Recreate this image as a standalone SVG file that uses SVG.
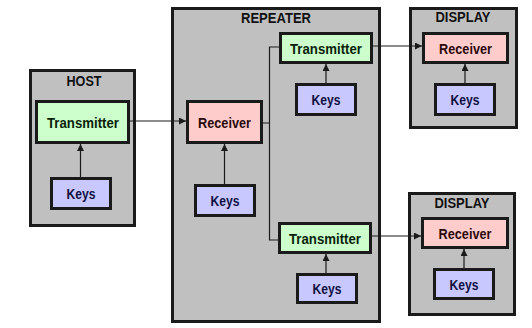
<svg xmlns="http://www.w3.org/2000/svg" width="532" height="328" viewBox="0 0 532 328">
<defs>
<marker id="ah" markerWidth="8" markerHeight="8" refX="7" refY="3.5" orient="auto" markerUnits="userSpaceOnUse">
<path d="M0,0 L7,3.5 L0,7 Z" fill="#1a1a1a"/>
</marker>
<style>
.cont{fill:#c0c0c0;stroke:#1a1a1a;stroke-width:3}
.tx{fill:#ccffcc;stroke:#1a1a1a;stroke-width:3}
.rx{fill:#ffcccc;stroke:#1a1a1a;stroke-width:3}
.keys{fill:#c8c8ff;stroke:#1a1a1a;stroke-width:3}
text{font-family:"Liberation Sans",Arial,sans-serif;font-weight:bold;text-anchor:middle;dominant-baseline:central}
.title{font-size:14px;fill:#111}
.lbl{font-size:15px}
.ttx{fill:#0a1f0a}
.trx{fill:#2a0a0a}
.tk{fill:#101040}
.conn line,.conn path{stroke:#1a1a1a;stroke-width:1.2;fill:none}
</style>
</defs>
<rect width="532" height="328" fill="#ffffff"/>
<g id="host">
<rect class="cont" x="30.5" y="70.5" width="104" height="155"/>
<text class="title" x="84" y="81" textLength="35" lengthAdjust="spacingAndGlyphs">HOST</text>
</g>
<g id="host-transmitter">
<rect class="tx" x="36.5" y="101.5" width="92" height="41"/>
<text class="lbl ttx" x="83" y="122" textLength="72" lengthAdjust="spacingAndGlyphs">Transmitter</text>
</g>
<g id="host-keys">
<rect class="keys" x="51.5" y="178.5" width="59" height="30"/>
<text class="lbl tk" x="81" y="193.5" textLength="29" lengthAdjust="spacingAndGlyphs">Keys</text>
</g>
<g id="repeater">
<rect class="cont" x="172.5" y="8.5" width="207" height="313"/>
<text class="title" x="276" y="18" textLength="70" lengthAdjust="spacingAndGlyphs">REPEATER</text>
</g>
<g id="repeater-receiver">
<rect class="rx" x="187.5" y="101.5" width="74" height="41"/>
<text class="lbl trx" x="224.5" y="122" textLength="53" lengthAdjust="spacingAndGlyphs">Receiver</text>
</g>
<g id="repeater-keys">
<rect class="keys" x="195.5" y="185.5" width="59" height="30"/>
<text class="lbl tk" x="225" y="200.5" textLength="29" lengthAdjust="spacingAndGlyphs">Keys</text>
</g>
<g id="repeater-transmitter-top">
<rect class="tx" x="280.5" y="33.5" width="91" height="29"/>
<text class="lbl ttx" x="326" y="48" textLength="72" lengthAdjust="spacingAndGlyphs">Transmitter</text>
</g>
<g id="repeater-keys-top">
<rect class="keys" x="296.5" y="84.5" width="59" height="30"/>
<text class="lbl tk" x="326" y="99.5" textLength="29" lengthAdjust="spacingAndGlyphs">Keys</text>
</g>
<g id="repeater-transmitter-bottom">
<rect class="tx" x="279.5" y="223.5" width="91" height="29"/>
<text class="lbl ttx" x="325" y="238" textLength="72" lengthAdjust="spacingAndGlyphs">Transmitter</text>
</g>
<g id="repeater-keys-bottom">
<rect class="keys" x="297.5" y="274.5" width="59" height="28"/>
<text class="lbl tk" x="327" y="288.5" textLength="29" lengthAdjust="spacingAndGlyphs">Keys</text>
</g>
<g id="display-top">
<rect class="cont" x="410.5" y="8.5" width="106" height="119"/>
<text class="title" x="463" y="17" textLength="55" lengthAdjust="spacingAndGlyphs">DISPLAY</text>
</g>
<g id="display-top-receiver">
<rect class="rx" x="423.5" y="33.5" width="84" height="29"/>
<text class="lbl trx" x="465.5" y="48" textLength="53" lengthAdjust="spacingAndGlyphs">Receiver</text>
</g>
<g id="display-top-keys">
<rect class="keys" x="435.5" y="84.5" width="59" height="30"/>
<text class="lbl tk" x="465" y="99.5" textLength="29" lengthAdjust="spacingAndGlyphs">Keys</text>
</g>
<g id="display-bottom">
<rect class="cont" x="409.5" y="193.5" width="105" height="121"/>
<text class="title" x="462" y="203" textLength="55" lengthAdjust="spacingAndGlyphs">DISPLAY</text>
</g>
<g id="display-bottom-receiver">
<rect class="rx" x="422.5" y="218.5" width="85" height="29"/>
<text class="lbl trx" x="465" y="233" textLength="53" lengthAdjust="spacingAndGlyphs">Receiver</text>
</g>
<g id="display-bottom-keys">
<rect class="keys" x="434.5" y="269.5" width="59" height="29"/>
<text class="lbl tk" x="464" y="284" textLength="29" lengthAdjust="spacingAndGlyphs">Keys</text>
</g>
<g class="conn" id="connectors">
<line x1="130" y1="121" x2="186" y2="121" marker-end="url(#ah)"/>
<line x1="80.5" y1="177" x2="80.5" y2="144" marker-end="url(#ah)"/>
<line x1="224.5" y1="184" x2="224.5" y2="144" marker-end="url(#ah)"/>
<path d="M263,123 H269.5 M279,47 H269.5 V240 H278"/>
<line x1="326" y1="83" x2="326" y2="64" marker-end="url(#ah)"/>
<line x1="326" y1="273" x2="326" y2="254" marker-end="url(#ah)"/>
<line x1="373" y1="46" x2="422" y2="46" marker-end="url(#ah)"/>
<line x1="372" y1="236" x2="421" y2="236" marker-end="url(#ah)"/>
<line x1="465" y1="83" x2="465" y2="64" marker-end="url(#ah)"/>
<line x1="464" y1="268" x2="464" y2="249" marker-end="url(#ah)"/>
</g>
</svg>
